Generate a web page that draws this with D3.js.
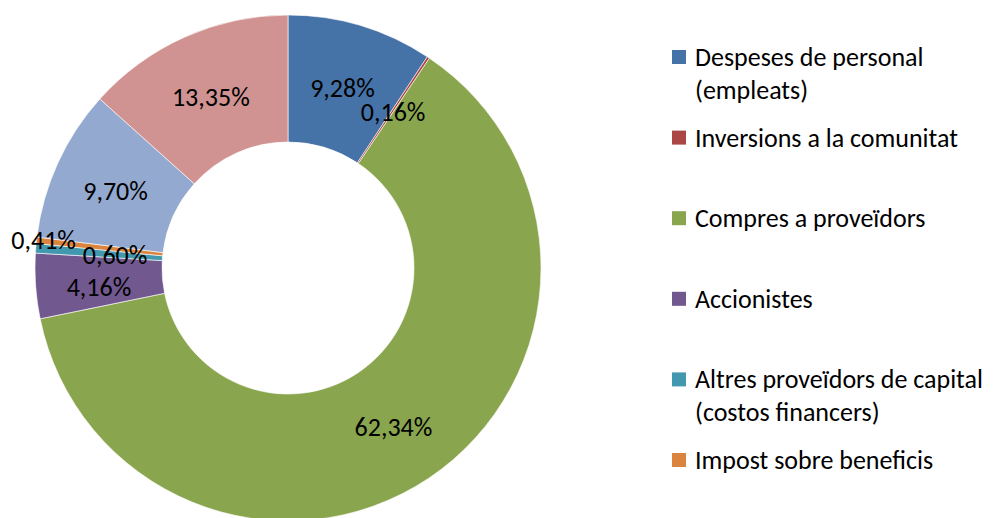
<!DOCTYPE html>
<html>
<head>
<meta charset="utf-8">
<script src="https://cdn.jsdelivr.net/npm/d3@7"></script>
<style>
  html, body { margin: 0; padding: 0; background: #fff; }
  svg { display: block; font-family: Carlito, Calibri, Lato, sans-serif; }
</style>
</head>
<body>
<div id="chart"></div>
<script>
// dades (el gràfic original: 8 sectors, la llegenda només en mostra 6)
const categories = [
  ["Despeses de personal", "(empleats)"],
  ["Inversions a la comunitat"],
  ["Compres a proveïdors"],
  ["Accionistes"],
  ["Altres proveïdors de capital", "(costos financers)"],
  ["Impost sobre beneficis"]
];
const values = [9.28, 0.16, 62.34, 4.16, 0.60, 0.41, 9.70, 13.35];
const colors = ["#4572A7", "#AA4643", "#89A54E", "#71588F", "#4198AF", "#DB843D", "#93A9CF", "#D19392"];

// desplaçaments manuals d'etiquetes (px) per evitar solapaments
const labelNudge = { 3: [0, 3], 4: [16, 0], 5: [-56, -9] };

const width = 993, height = 518;
const cx = 288, cy = 268;
const outerR = 253, innerR = 126;

const svg = d3.select("#chart").append("svg")
    .attr("width", width)
    .attr("height", height)
    .attr("viewBox", `0 0 ${width} ${height}`);

const pie = d3.pie().sort(null).value(d => d);
const arcs = pie(values);

const arc = d3.arc().innerRadius(innerR).outerRadius(outerR);
const labelArc = d3.arc().innerRadius((innerR + outerR) / 2).outerRadius((innerR + outerR) / 2);

const g = svg.append("g").attr("transform", `translate(${cx},${cy})`);

g.selectAll("path")
    .data(arcs)
    .enter().append("path")
    .attr("d", arc)
    .attr("fill", (d, i) => colors[i])
    .attr("stroke", "#fff")
    .attr("stroke-width", 0.6);

const fmt = v => v.toFixed(2).replace(".", ",") + "%";

g.selectAll("text.lbl")
    .data(arcs)
    .enter().append("text")
    .attr("class", "lbl")
    .attr("transform", (d, i) => {
        const [x, y] = labelArc.centroid(d);
        const n = labelNudge[i] || [0, 0];
        return `translate(${x + n[0]},${y + n[1] + 2})`;
    })
    .attr("text-anchor", "middle")
    .attr("dominant-baseline", "central")
    .attr("fill", "#000")
    .style("font-size", "26px")
    .text(d => fmt(d.value));

// llegenda
const legend = svg.append("g").attr("transform", "translate(672,57)");
const rowStep = 80.6, lineStep = 33;

const item = legend.selectAll("g")
    .data(categories)
    .enter().append("g")
    .attr("transform", (d, i) => `translate(0,${i * rowStep})`);

item.append("rect")
    .attr("x", 0).attr("y", -7)
    .attr("width", 14).attr("height", 14)
    .attr("fill", (d, i) => colors[i]);

item.each(function(lines) {
    d3.select(this).selectAll("text")
        .data(lines)
        .enter().append("text")
        .attr("x", 23)
        .attr("y", (d, j) => j * lineStep)
        .attr("dominant-baseline", "central")
        .attr("fill", "#000")
        .style("font-size", "26px")
        .text(d => d);
});
</script>
</body>
</html>
